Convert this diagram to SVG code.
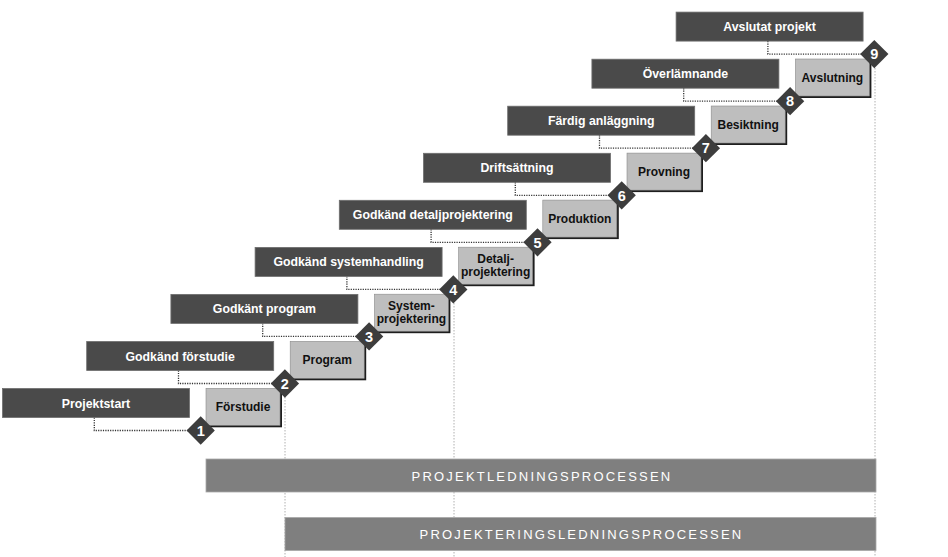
<svg xmlns="http://www.w3.org/2000/svg" width="948" height="557" viewBox="0 0 948 557">
<style>
.dk{fill:#4a4a4a;stroke:#6e6e6e;stroke-width:0.8}
.dt{fill:#fff;font-family:"Liberation Sans",Arial,sans-serif;font-weight:bold;font-size:12.3px;text-anchor:middle}
.sh{fill:#1e1e1e}
.lt{fill:#bebebe;stroke:#8a8a8a;stroke-width:0.6}
.pt{fill:#111;font-family:"Liberation Sans",Arial,sans-serif;font-weight:bold;font-size:12px;text-anchor:middle}
.dm{fill:#3d3d3d}
.nt{fill:#fff;font-family:"Liberation Sans",Arial,sans-serif;font-weight:bold;font-size:14.5px;text-anchor:middle}
.con{fill:none;stroke:#333;stroke-width:1.3;stroke-dasharray:1.2 1.2}
.gl{fill:none;stroke:#b0b0b0;stroke-width:1;stroke-dasharray:1.5 1.5}
.bar{fill:#7f7f7f;stroke:#a8a8a8;stroke-width:0.8}
.bt{fill:#fff;font-family:"Liberation Sans",Arial,sans-serif;font-size:13px;letter-spacing:2.2px;text-anchor:middle}
</style>
<defs>
<rect id="dia" x="-10" y="-10" width="20" height="20" transform="rotate(45)"/>
</defs>
<rect width="948" height="557" fill="#fff"/>
<g id="guides">
<line class="gl" x1="285" y1="397" x2="285" y2="557"/>
<line class="gl" x1="454" y1="303" x2="454" y2="557"/>
<line class="gl" x1="875" y1="68" x2="875" y2="557"/>
</g>
<g id="bar-projektledning">
<rect class="bar" x="206" y="459" width="670" height="33"/>
<text class="bt" x="542" y="480.5">PROJEKTLEDNINGSPROCESSEN</text>
</g>
<g id="bar-projekteringsledning">
<rect class="bar" x="285" y="517.5" width="591" height="33"/>
<text class="bt" x="581.5" y="539">PROJEKTERINGSLEDNINGSPROCESSEN</text>
</g>
<g id="connectors">
<polyline class="con" points="94.3,417.5 94.3,430.5 190,430.5"/>
<polyline class="con" points="178.5,370.5 178.5,383.5 274,383.5"/>
<polyline class="con" points="262.7,323.4 262.7,336.4 358,336.4"/>
<polyline class="con" points="346.9,276.4 346.9,289.4 442,289.4"/>
<polyline class="con" points="431.1,229.3 431.1,242.3 527,242.3"/>
<polyline class="con" points="515.3,182.3 515.3,195.3 611,195.3"/>
<polyline class="con" points="599.5,135.2 599.5,148.2 695,148.2"/>
<polyline class="con" points="683.7,88.2 683.7,101.2 779,101.2"/>
<polyline class="con" points="767.9,41.1 767.9,54.1 863,54.1"/>
</g>
<g id="m1"><rect class="dk" x="2.5" y="388.5" width="187" height="29"/><text class="dt" x="96" y="407.5">Projektstart</text></g>
<g id="m2"><rect class="dk" x="86.7" y="341.5" width="187" height="29"/><text class="dt" x="180.2" y="360.5">Godkänd förstudie</text></g>
<g id="m3"><rect class="dk" x="170.9" y="294.4" width="187" height="29"/><text class="dt" x="264.4" y="313.4">Godkänt program</text></g>
<g id="m4"><rect class="dk" x="255.1" y="247.4" width="187" height="29"/><text class="dt" x="348.6" y="266.4">Godkänd systemhandling</text></g>
<g id="m5"><rect class="dk" x="339.3" y="200.3" width="187" height="29"/><text class="dt" x="432.8" y="219.3">Godkänd detaljprojektering</text></g>
<g id="m6"><rect class="dk" x="423.5" y="153.3" width="187" height="29"/><text class="dt" x="517" y="172.3">Driftsättning</text></g>
<g id="m7"><rect class="dk" x="507.7" y="106.2" width="187" height="29"/><text class="dt" x="601.2" y="125.2">Färdig anläggning</text></g>
<g id="m8"><rect class="dk" x="591.9" y="59.2" width="187" height="29"/><text class="dt" x="685.4" y="78.2">Överlämnande</text></g>
<g id="m9"><rect class="dk" x="676.1" y="12.1" width="187" height="29"/><text class="dt" x="769.6" y="31.1">Avslutat projekt</text></g>
<g id="p1"><rect class="sh" x="208" y="390.3" width="74" height="37"/><rect class="lt" x="206" y="388.3" width="74" height="37"/><text class="pt" x="243" y="411.1">Förstudie</text></g>
<g id="p2"><rect class="sh" x="292.2" y="343.3" width="74" height="37"/><rect class="lt" x="290.2" y="341.3" width="74" height="37"/><text class="pt" x="327.2" y="364.1">Program</text></g>
<g id="p3"><rect class="sh" x="376.4" y="296.2" width="74" height="37"/><rect class="lt" x="374.4" y="294.2" width="74" height="37"/><text class="pt" x="411.4" y="309.8">System-</text><text class="pt" x="411.4" y="323.2">projektering</text></g>
<g id="p4"><rect class="sh" x="460.6" y="249.2" width="74" height="37"/><rect class="lt" x="458.6" y="247.2" width="74" height="37"/><text class="pt" x="495.6" y="262.8">Detalj-</text><text class="pt" x="495.6" y="276.2">projektering</text></g>
<g id="p5"><rect class="sh" x="544.8" y="202.1" width="74" height="37"/><rect class="lt" x="542.8" y="200.1" width="74" height="37"/><text class="pt" x="579.8" y="222.9">Produktion</text></g>
<g id="p6"><rect class="sh" x="629" y="155.1" width="74" height="37"/><rect class="lt" x="627" y="153.1" width="74" height="37"/><text class="pt" x="664" y="175.9">Provning</text></g>
<g id="p7"><rect class="sh" x="713.2" y="108" width="74" height="37"/><rect class="lt" x="711.2" y="106" width="74" height="37"/><text class="pt" x="748.2" y="128.8">Besiktning</text></g>
<g id="p8"><rect class="sh" x="797.4" y="61" width="74" height="37"/><rect class="lt" x="795.4" y="59" width="74" height="37"/><text class="pt" x="832.4" y="81.8">Avslutning</text></g>
<g id="d1" transform="translate(200.7,430.5)"><use href="#dia" class="dm"/><text class="nt" y="5.2">1</text></g>
<g id="d2" transform="translate(284.9,383.5)"><use href="#dia" class="dm"/><text class="nt" y="5.2">2</text></g>
<g id="d3" transform="translate(369.1,336.4)"><use href="#dia" class="dm"/><text class="nt" y="5.2">3</text></g>
<g id="d4" transform="translate(453.3,289.4)"><use href="#dia" class="dm"/><text class="nt" y="5.2">4</text></g>
<g id="d5" transform="translate(537.5,242.3)"><use href="#dia" class="dm"/><text class="nt" y="5.2">5</text></g>
<g id="d6" transform="translate(621.7,195.3)"><use href="#dia" class="dm"/><text class="nt" y="5.2">6</text></g>
<g id="d7" transform="translate(705.9,148.2)"><use href="#dia" class="dm"/><text class="nt" y="5.2">7</text></g>
<g id="d8" transform="translate(790.1,101.2)"><use href="#dia" class="dm"/><text class="nt" y="5.2">8</text></g>
<g id="d9" transform="translate(874.3,54.1)"><use href="#dia" class="dm"/><text class="nt" y="5.2">9</text></g>
</svg>
